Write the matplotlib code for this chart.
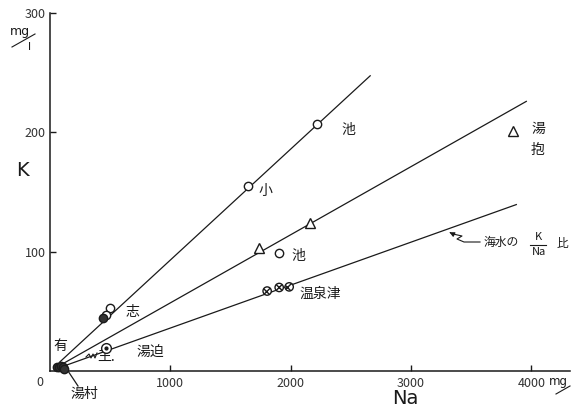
import matplotlib
matplotlib.use("Agg")
import matplotlib.pyplot as plt
import numpy as np
from matplotlib.lines import Line2D

plt.rcParams['font.family'] = ['Noto Sans CJK JP', 'DejaVu Sans']

# ratio lines (K/Na slope, start Na, end Na)
line_slopes = [0.093, 0.0571, 0.036]
line_starts = [80, 80, 90]
line_ends = [2660, 3957, 3874]

# open circles
circ_na = [499, 465, 1646, 2219, 1904]
circ_k = [53, 47, 155, 207, 99]
# filled dots
fill_na = [440, 60, 75, 90, 105, 120]
fill_k = [44, 3, 3, 4, 3, 2]
# triangles
tri_na = [1737, 2161, 3849]
tri_k = [103, 124, 201]
# circled dot (湯迫)
cdot_na = [465]
cdot_k = [19]
# hatched circles (温泉津)
hat_na = [1804, 1904, 1987]
hat_k = [67, 70, 70.5]

xticks = [1000, 2000, 3000, 4000]
yticks = [100, 200, 300]

W, H = 573, 409
fig = plt.figure(figsize=(W / 100, H / 100), dpi=100)
ax = fig.add_axes([50 / W, 38 / H, 520 / W, 358 / H])
XMAX = 4320
ax.set_xlim(0, XMAX)
ax.set_ylim(0, 300)

def px(x, y):
    return ((x - 50) / 520 * XMAX, (371 - y) / 358 * 300)

ink = '#1a1a1a'
for s, x0, x1 in zip(line_slopes, line_starts, line_ends):
    xs = np.array([x0, x1])
    ax.plot(xs, s * xs, color=ink, lw=0.9, zorder=2)

ax.plot(circ_na, circ_k, 'o', ms=6, mfc='white', mec=ink, mew=1.0, zorder=4)
ax.plot(fill_na, fill_k, 'o', ms=6, mfc='#333333', mec=ink, mew=1.0, zorder=4, clip_on=False)
ax.plot(tri_na, tri_k, '^', ms=7, mfc='white', mec=ink, mew=1.0, zorder=4)
ax.plot(cdot_na, cdot_k, 'o', ms=7, mfc='white', mec=ink, mew=1.0, zorder=4)
ax.plot(cdot_na, cdot_k, 'o', ms=2, mfc=ink, mec=ink, zorder=5)
ax.scatter(hat_na, hat_k, s=36, facecolor='white', edgecolor=ink, hatch='xxxx', lw=1.0, zorder=4)

for sp in ['top', 'right']:
    ax.spines[sp].set_visible(False)
for sp in ['left', 'bottom']:
    ax.spines[sp].set_linewidth(1.1)
    ax.spines[sp].set_color(ink)

ax.set_xticks(xticks)
ax.set_yticks(yticks)
ax.tick_params(direction='in', length=4, width=1, colors=ink, labelsize=9, pad=4)
ax.set_xticklabels([str(v) for v in xticks], color='#333333')
ax.set_yticklabels([str(v) for v in yticks], color='#333333')
ax.tick_params(axis='y', pad=3)

fs = 10
def t(x, y, s, **kw):
    d = px(x, y)
    kw.setdefault('fontsize', fs)
    kw.setdefault('ha', 'center')
    kw.setdefault('va', 'center')
    ax.text(d[0], d[1], s, color=ink, clip_on=False, **kw)

t(348, 130, '池')
t(265, 191, '小')
t(298, 256, '池')
t(320, 294, '温泉津')
t(133, 312, '志')
t(150, 353, '湯迫')
t(60, 346, '有')
t(106, 357, '王.')
t(84, 394, '湯村')
t(538, 129, '湯')
t(538, 150, '抱')
t(501, 242, '海水の', fontsize=8.5)
t(538, 237, 'K', fontsize=8)
t(539, 252, 'Na', fontsize=8)
t(562, 243, '比', fontsize=8.5)

# fraction bar
a, b = px(530, 245), px(546, 245)
ax.plot([a[0], b[0]], [a[1], b[1]], color=ink, lw=0.8, clip_on=False)
# leader arrow to seawater line
pts = [px(x, y) for x, y in [(480, 242), (464, 242), (457, 239), (462, 236), (453, 234)]]
ax.plot([p[0] for p in pts], [p[1] for p in pts], color=ink, lw=0.8, clip_on=False)
ax.annotate('', xy=px(447, 231), xytext=pts[-1],
            arrowprops=dict(arrowstyle='-|>', color=ink, lw=0.8, mutation_scale=7))
# 湯村 leader
p1, p2 = px(68, 371), px(78, 386)
ax.plot([p1[0], p2[0]], [p1[1], p2[1]], color=ink, lw=0.9, clip_on=False)
# squiggle near 王
sq = [px(x, y) for x, y in [(86, 357), (89, 354), (91, 358), (93, 354), (95, 358), (97, 353)]]
ax.plot([p[0] for p in sq], [p[1] for p in sq], color=ink, lw=0.8, clip_on=False)

fig.text(40 / W, 1 - 382 / H, '0', fontsize=9, color='#333333', ha='center', va='center')
fig.text(22 / W, 1 - 170 / H, 'K', fontsize=14, color=ink, ha='center', va='center', family='DejaVu Sans')
fig.text(405 / W, 1 - 399 / H, 'Na', fontsize=14, color=ink, ha='center', va='center', family='DejaVu Sans')
fig.text(20 / W, 1 - 31 / H, 'mg', fontsize=9, color=ink, ha='center', va='center', family='DejaVu Sans')
fig.add_artist(Line2D([12 / W, 35 / W], [1 - 47 / H, 1 - 34 / H], color=ink, lw=0.8))
fig.text(30 / W, 1 - 47 / H, 'l', fontsize=8, color=ink, ha='center', va='center', family='DejaVu Sans')
fig.text(558 / W, 1 - 382 / H, 'mg', fontsize=8.5, color=ink, ha='center', va='center', family='DejaVu Sans')
fig.add_artist(Line2D([556 / W, 570 / W], [1 - 394 / H, 1 - 386 / H], color=ink, lw=0.8))

fig.savefig('out.png', dpi=100, facecolor='white')
